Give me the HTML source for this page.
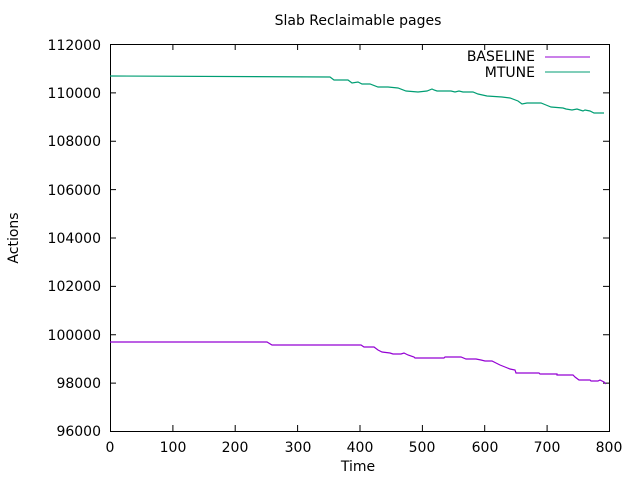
<!DOCTYPE html>
<html><head><style>body{margin:0;background:#fff}svg{display:block}text{font-family:"DejaVu Sans","Liberation Sans",sans-serif;font-size:14px;fill:#000}</style></head>
<body>
<svg width="640" height="480" xmlns="http://www.w3.org/2000/svg">
<rect x="110.5" y="44.5" width="499" height="387" fill="none" stroke="#000" stroke-width="1"/>
<g stroke="#000" stroke-width="1">
<path d="M110.5 431v-6M172.9 431v-6M235.2 431v-6M297.6 431v-6M360 431v-6M422.4 431v-6M484.7 431v-6M547.1 431v-6M609.5 431v-6"/>
<path d="M110.5 44v6M172.9 44v6M235.2 44v6M297.6 44v6M360 44v6M422.4 44v6M484.7 44v6M547.1 44v6"/>
<path d="M110 431.5h6M110 383.1h6M110 334.7h6M110 286.4h6M110 238h6M110 189.6h6M110 141.3h6M110 92.9h6M110 44.5h6"/>
<path d="M609 383.1h-6M609 334.7h-6M609 286.4h-6M609 238h-6M609 189.6h-6M609 141.3h-6M609 92.9h-6"/>
</g>
<g text-anchor="end">
<text x="101" y="436">96000</text><text x="101" y="388">98000</text><text x="101" y="340">100000</text><text x="101" y="291">102000</text><text x="101" y="243">104000</text><text x="101" y="195">106000</text><text x="101" y="146">108000</text><text x="101" y="98">110000</text><text x="101" y="50">112000</text>
</g>
<g text-anchor="middle">
<text x="110" y="452">0</text><text x="173" y="452">100</text><text x="235" y="452">200</text><text x="298" y="452">300</text><text x="360" y="452">400</text><text x="422" y="452">500</text><text x="485" y="452">600</text><text x="547" y="452">700</text><text x="609" y="452">800</text>
<text x="358" y="471">Time</text>
<text x="358" y="25">Slab Reclaimable pages</text>
</g>
<text x="18" y="238" text-anchor="middle" transform="rotate(-90 18 238)">Actions</text>
<text x="535" y="61" text-anchor="end">BASELINE</text>
<text x="535" y="77" text-anchor="end">MTUNE</text>
<path d="M545 57h45" stroke="#9400d3" stroke-width="1"/>
<path d="M545 72h45" stroke="#009e73" stroke-width="1"/>
<polyline fill="none" stroke="#9400d3" stroke-width="1.2" points="110,342 267,342 272,345 361,345 364,347 374,347 378,350 382,352 390,353 393,354 401,354 404,353 408,355 414,357 415,358 444,358 445,357 461,357 466,359 476,359 481,360 485,361 492,361 496,363 500,365 505,367 510,369 515,370 516,373 539,373 540,374 557,374 557,375 573,375 575,377 579,380 590,380 591,381 598,381 600,380 604,382 606,384"/>
<polyline fill="none" stroke="#009e73" stroke-width="1.2" points="110,76 330,77 334,80 348,80 352,83 358,82 362,84 370,84 378,87 388,87 398,88 406,91 418,92 427,91 432,89 434,90 437,91 451,91 455,92 459,91 463,92 473,92 478,94 487,96 502,97 510,98 518,101 522,104 527,103 541,103 546,105 551,107 563,108 566,109 572,110 577,109 580,110 583,111 585,110 590,111 594,113 604,113"/>
</svg>
</body></html>
